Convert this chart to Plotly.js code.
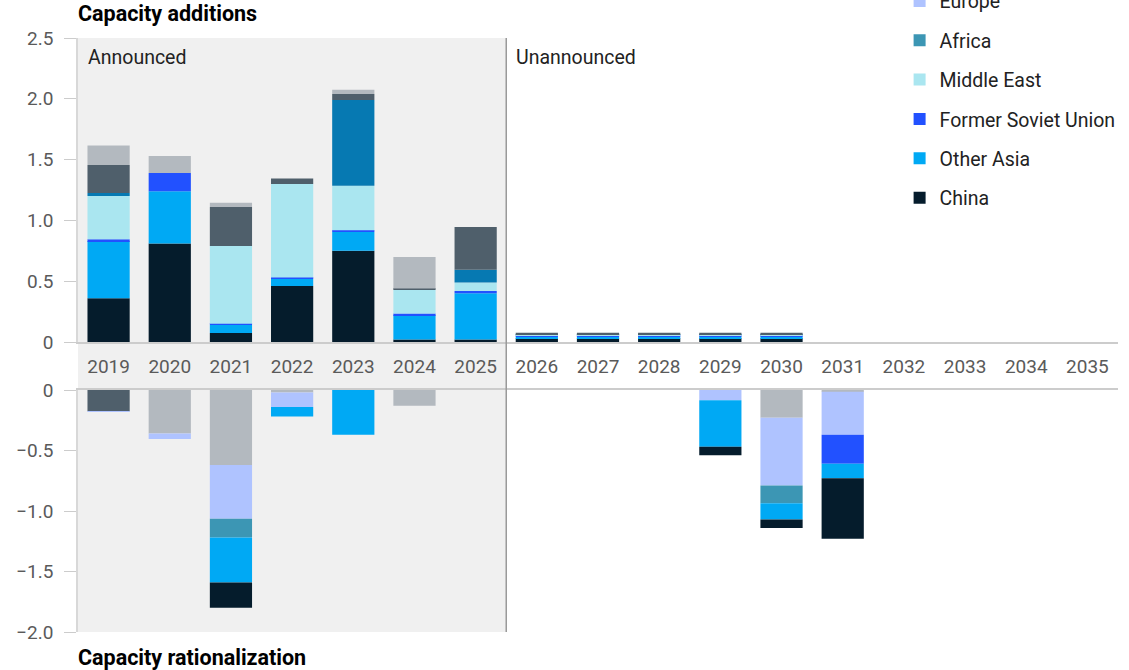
<!DOCTYPE html>
<html>
<head>
<meta charset="utf-8">
<script src="https://cdn.plot.ly/plotly-3.0.1.min.js"></script>
<style>html,body{margin:0;padding:0;background:#fff;}#chart{width:1129px;height:670px;}</style>
</head>
<body>
<div id="chart"></div>
<script>
const years = ['2019','2020','2021','2022','2023','2024','2025','2026','2027','2028','2029','2030','2031','2032','2033','2034','2035'];
const regions = ['China','Other Asia','Former Soviet Union','Middle East','Africa','Europe','Latin America','North America','Other'];
const colors = ['#051c2c','#00a9f4','#2251ff','#aae6f0','#3c96b4','#afc3ff','#0679b2','#4f5f6b','#b3b9bf'];

// Capacity additions
const addChina       = [0.36,0.81,0.075,0.46,0.75,0.02,0.02,0.03,0.03,0.03,0.03,0.03,0,0,0,0,0];
const addOtherAsia   = [0.47,0.43,0.065,0.06,0.155,0.20,0.38,0.015,0.015,0.015,0.015,0.015,0,0,0,0,0];
const addFSU         = [0.015,0.15,0.01,0.01,0.015,0.015,0.02,0.008,0.008,0.008,0.008,0.008,0,0,0,0,0];
const addMiddleEast  = [0.355,0,0.64,0.77,0.365,0.195,0.07,0.008,0.008,0.008,0.008,0.008,0,0,0,0,0];
const addAfrica      = [0,0,0,0,0,0,0,0,0,0,0,0,0,0,0,0,0];
const addEurope      = [0,0,0,0,0,0,0,0,0,0,0,0,0,0,0,0,0];
const addLatAm       = [0.025,0,0,0,0.705,0,0.105,0.004,0.004,0.004,0.004,0.004,0,0,0,0,0];
const addNorthAm     = [0.23,0,0.32,0.045,0.05,0.01,0.35,0.012,0.012,0.012,0.012,0.012,0,0,0,0,0];
const addOther       = [0.16,0.14,0.035,0,0.035,0.26,0,0,0,0,0,0,0,0,0,0,0];

// Capacity rationalization
const ratChina       = [0,0,-0.21,0,0,0,0,0,0,0,-0.07,-0.07,-0.50,0,0,0,0];
const ratOtherAsia   = [0,0,-0.37,-0.08,-0.37,0,0,0,0,0,-0.385,-0.135,-0.12,0,0,0,0];
const ratFSU         = [0,0,0,0,0,0,0,0,0,0,0,0,-0.24,0,0,0,0];
const ratMiddleEast  = [0,0,0,0,0,0,0,0,0,0,0,0,0,0,0,0,0];
const ratAfrica      = [0,0,-0.155,0,0,0,0,0,0,0,0,-0.145,0,0,0,0,0];
const ratEurope      = [-0.005,-0.045,-0.445,-0.12,0,0,0,0,0,0,-0.085,-0.56,-0.355,0,0,0,0];
const ratLatAm       = [0,0,0,0,0,0,0,0,0,0,0,0,0,0,0,0,0];
const ratNorthAm     = [-0.175,0,0,0,0,0,0,0,0,0,0,0,0,0,0,0,0];
const ratOther       = [0,-0.36,-0.62,-0.02,0,-0.13,0,0,0,0,0,-0.23,-0.015,0,0,0,0];

const yTopVals = [0,0.5,1.0,1.5,2.0,2.5];
const yTopText = ['0','0.5','1.0','1.5','2.0','2.5'];
const yBotVals = [-2.0,-1.5,-1.0,-0.5,0];
const yBotText = ['\u22122.0','\u22121.5','\u22121.0','\u22120.5','0'];

const addSeries = [addChina,addOtherAsia,addFSU,addMiddleEast,addAfrica,addEurope,addLatAm,addNorthAm,addOther];
const ratSeries = [ratChina,ratOtherAsia,ratFSU,ratMiddleEast,ratAfrica,ratEurope,ratLatAm,ratNorthAm,ratOther];

const FONT = 'Roboto, "Noto Sans", sans-serif';
const traces = [];
regions.forEach((r,i)=>{
  traces.push({type:'bar', x:years, y:addSeries[i], name:r, legendgroup:r, legendrank:100 - i,
    marker:{color:colors[i], line:{width:0}}, xaxis:'x', yaxis:'y', hoverinfo:'x+y+name'});
});
for (let i = regions.length-1; i >= 0; i--) {
  traces.push({type:'bar', x:years, y:ratSeries[i], name:regions[i], legendgroup:regions[i], legendrank:100 - i, showlegend:false,
    marker:{color:colors[i], line:{width:0}}, xaxis:'x2', yaxis:'y2', hoverinfo:'x+y+name'});
}

const layout = {
  width:1129, height:670,
  margin:{l:78, r:11, t:38, b:38, autoexpand:false},
  paper_bgcolor:'#ffffff', plot_bgcolor:'rgba(0,0,0,0)',
  font:{family:FONT, size:19.5, color:'#222'},
  barmode:'relative', bargap:0.31,
  showlegend:true,
  legend:{x:0.79, xanchor:'left', y:1.2935, yanchor:'top', traceorder:'grouped', tracegroupgap:11, maxheight:2000,
    font:{family:FONT, size:19.5, color:'#222'}, bgcolor:'rgba(0,0,0,0)'},
  xaxis:{type:'category', categoryarray:years, range:[-0.5,16.5], anchor:'y',
    showline:true, linecolor:'#cccccc', linewidth:1.5, ticks:'', showgrid:false, zeroline:false,
    tickfont:{family:FONT, size:19, color:'#5a5a5a'}, ticklabelstandoff:6},
  xaxis2:{type:'category', categoryarray:years, range:[-0.5,16.5], anchor:'y2', matches:'x',
    side:'top', showline:true, linecolor:'#cccccc', linewidth:1.5, ticks:'', showgrid:false, zeroline:false,
    showticklabels:false},
  yaxis:{domain:[0.4882,1], range:[0,2.5], tickvals:yTopVals, ticktext:yTopText,
    ticks:'outside', ticklen:12, tickcolor:'#cccccc', tickwidth:1.2,
    showline:true, linecolor:'#d8d8d8', linewidth:1.5, showgrid:false, zeroline:false,
    tickfont:{family:FONT, size:19, color:'#5a5a5a'}, ticklabelstandoff:7},
  yaxis2:{domain:[0,0.4074], range:[-2.0,0], tickvals:yBotVals, ticktext:yBotText,
    ticks:'outside', ticklen:12, tickcolor:'#cccccc', tickwidth:1.2,
    showline:true, linecolor:'#d8d8d8', linewidth:1.5, showgrid:false, zeroline:false,
    tickfont:{family:FONT, size:19, color:'#5a5a5a'}, ticklabelstandoff:7},
  shapes:[
    {type:'rect', xref:'x', yref:'paper', x0:-0.5, x1:6.5, y0:0, y1:1, fillcolor:'#f0f0f0', line:{width:0}, layer:'below'},
    {type:'line', xref:'x', yref:'paper', x0:6.5, x1:6.5, y0:0, y1:1, line:{color:'#999999', width:1.5}, layer:'above'}
  ],
  annotations:[
    {xref:'paper', yref:'paper', x:0, y:1, xanchor:'left', yanchor:'bottom', yshift:10, xshift:-2, showarrow:false,
      text:'<b>Capacity additions</b>', font:{family:FONT, size:21.5, color:'#000'}},
    {xref:'paper', yref:'paper', x:0, y:0, xanchor:'left', yanchor:'top', yshift:-11, xshift:-2, showarrow:false,
      text:'<b>Capacity rationalization</b>', font:{family:FONT, size:21.5, color:'#000'}},
    {xref:'x', yref:'paper', x:-0.5, y:1, xanchor:'left', yanchor:'top', xshift:8, yshift:-6, showarrow:false,
      text:'Announced', font:{family:FONT, size:19.5, color:'#222'}},
    {xref:'x', yref:'paper', x:6.5, y:1, xanchor:'left', yanchor:'top', xshift:8, yshift:-6, showarrow:false,
      text:'Unannounced', font:{family:FONT, size:19.5, color:'#222'}}
  ]
};

Plotly.newPlot('chart', traces, layout, {displayModeBar:false});
</script>
</body>
</html>
